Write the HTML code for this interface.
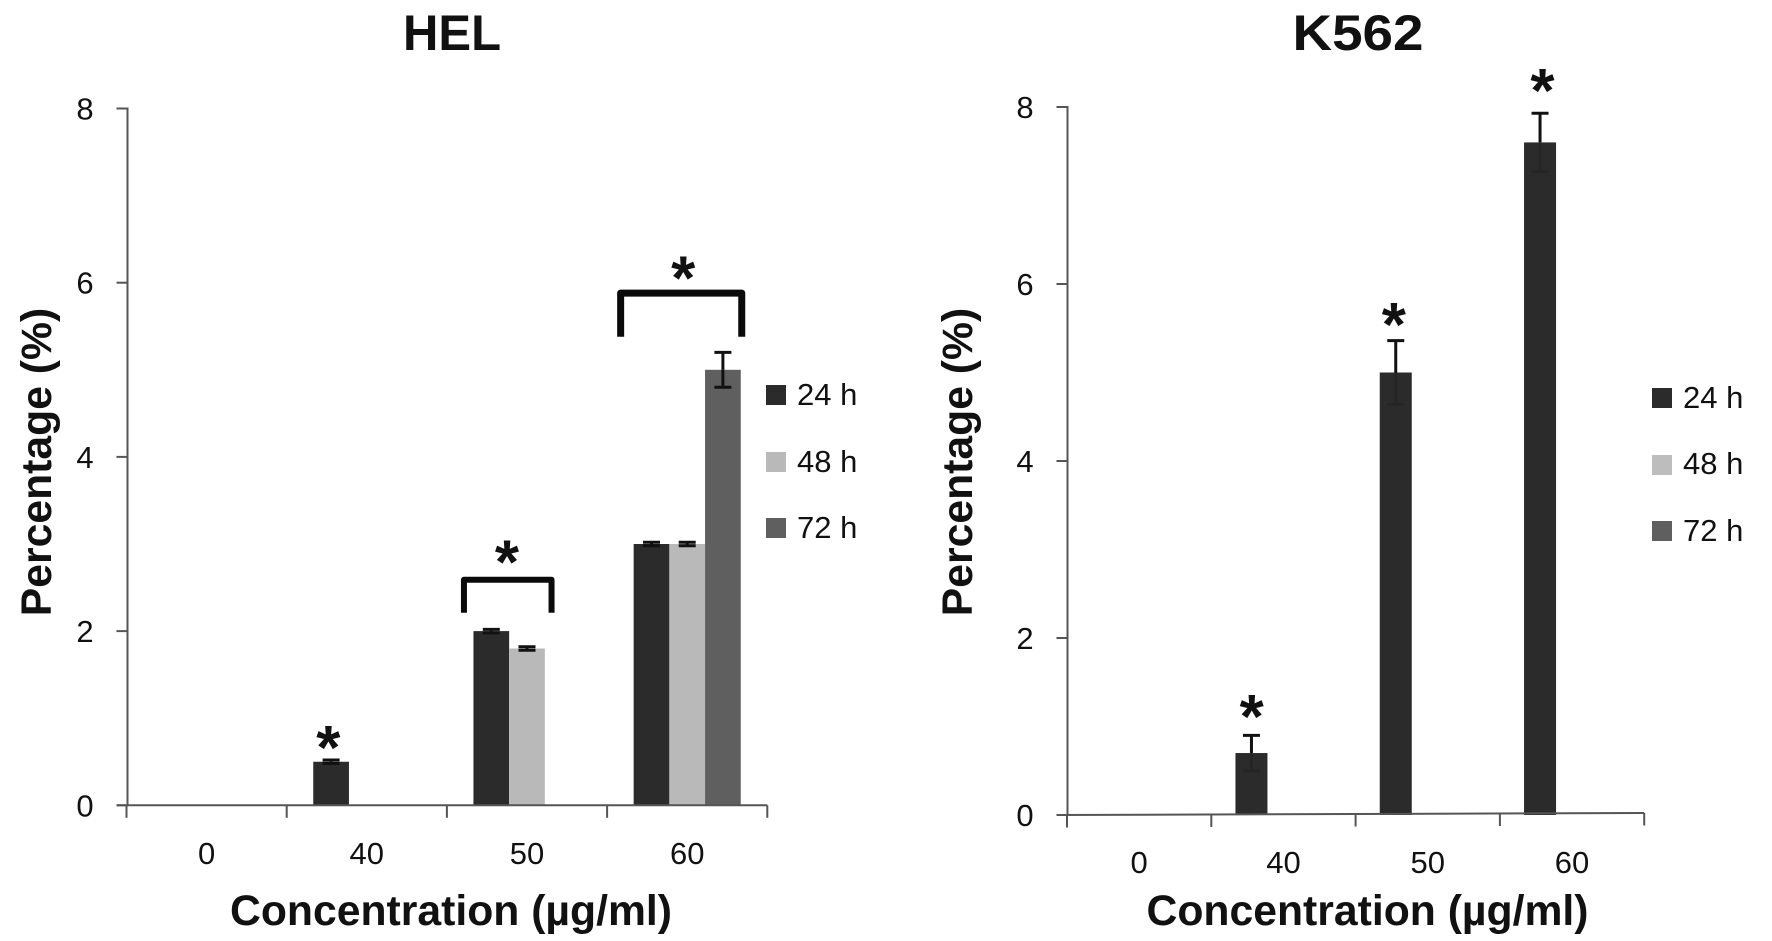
<!DOCTYPE html>
<html lang="en">
<head>
<meta charset="utf-8">
<title>HEL and K562 percentage by concentration</title>
<style>
  html, body { margin: 0; padding: 0; background: #fff; }
  svg { display: block; }
  text { font-family: "Liberation Sans", sans-serif; fill: #111; }
  .t { font-weight: bold; font-size: 50px; text-anchor: middle; }
  .a { font-weight: bold; font-size: 42.7px; text-anchor: middle; }
  .l { font-size: 31px; }
</style>
</head>
<body>
<svg id="fig" width="1772" height="941" viewBox="0 0 1772 941" xmlns="http://www.w3.org/2000/svg">
  <rect width="1772" height="941" fill="#fff"/>

  <g id="hel">
    <text class="t" x="452" y="50" textLength="98" lengthAdjust="spacingAndGlyphs">HEL</text>
    <text class="a" transform="translate(51 462) rotate(-90)">Percentage (%)</text>
    <text class="a" x="451" y="925">Concentration (µg/ml)</text>
    <g>
      <rect x="766" y="385" width="20" height="20" fill="#2b2b2b"/>
      <text class="l" x="797" y="405">24 h</text>
      <rect x="766" y="452" width="20" height="20" fill="#b9b9b9"/>
      <text class="l" x="797" y="472">48 h</text>
      <rect x="766" y="518" width="20" height="20" fill="#5f5f5f"/>
      <text class="l" x="797" y="538">72 h</text>
    </g>
  </g>

  <g id="k562">
    <text class="t" x="1358" y="50" textLength="131" lengthAdjust="spacingAndGlyphs">K562</text>
    <text class="a" transform="translate(972 462) rotate(-90)">Percentage (%)</text>
    <text class="a" x="1367.5" y="925">Concentration (µg/ml)</text>
    <g>
      <rect x="1652" y="388" width="20" height="20" fill="#2b2b2b"/>
      <text class="l" x="1683" y="408">24 h</text>
      <rect x="1652" y="455" width="20" height="20" fill="#bdbdbd"/>
      <text class="l" x="1683" y="474">48 h</text>
      <rect x="1652" y="521" width="20" height="20" fill="#5f5f5f"/>
      <text class="l" x="1683" y="541">72 h</text>
    </g>
  </g>
</svg>

<script>
// Shared axis data
const categories = ['0', '40', '50', '60'];
const yTickLabels = [0, 2, 4, 6, 8];
const seriesNames = ['24h', '48h', '72h'];

// HEL values per series (one entry per category)
const hel24 = [0, 0.5, 2, 3];
const hel48 = [0, 0, 1.8, 3];
const hel72 = [0, 0, 0, 5];
const hel24Err = [0, 0.02, 0.02, 0.02];
const hel48Err = [0, 0, 0.02, 0.02];
const hel72Err = [0, 0, 0, 0.2];

// HEL significance annotations (category coordinate, value coordinate)
const helStarCat = [0.76, 1.875, 2.975];
const helStarVal = [0.76, 2.89, 6.15];
const helBracketCat = [2, 3];
const helBracketTop = [2.59, 5.88];
const helBracketBottom = [2.21, 5.38];

// K562 values per series
const k24 = [0, 0.7, 5, 7.6];
const k48 = [0, 0, 0, 0];
const k72 = [0, 0, 0, 0];
const k24Err = [0, 0.2, 0.36, 0.33];
const k48Err = [0, 0, 0, 0];
const k72Err = [0, 0, 0, 0];

// K562 significance annotations
const kStarCat = [0.78, 1.765, 2.795];
const kStarVal = [1.21, 5.64, 8.28];

const NS = 'http://www.w3.org/2000/svg';
const colors = ['#2b2b2b', '#b9b9b9', '#5f5f5f'];
const AXIS = '#555';

function mk(parent, tag, attrs) {
  const el = document.createElementNS(NS, tag);
  for (const key in attrs) el.setAttribute(key, attrs[key]);
  parent.appendChild(el);
  return el;
}

function drawChart(rootId, prefix, g, series, errors, stars, brackets) {
  const root = document.getElementById(rootId);
  const xAt = c => g.left + (c + 0.5) * g.band;
  const yAt = v => g.zero - v * g.unit;
  const barLeft = (c, s) => xAt(c) - 1.5 * g.barW + s * g.barW;

  // bars
  series.forEach((vals, s) => {
    vals.forEach((v, c) => {
      const bar = mk(root, 'rect', { x: barLeft(c, s), y: yAt(v), width: g.barW, height: Math.max(0, g.zero - yAt(v)), fill: colors[s] });
      
      
    });
  });

  // axes
  const xAxis = mk(root, 'line', { x1: g.axisX - 11, y1: g.zero, x2: g.left + 4 * g.band, y2: g.zero - g.slope, stroke: AXIS, 'stroke-width': 2 });
  
  
  const yAxis = mk(root, 'line', { x1: g.axisX, y1: yAt(8) - 1, x2: g.axisX, y2: g.zero, stroke: AXIS, 'stroke-width': 2 });
  
  

  // y ticks and labels
  yTickLabels.forEach(v => {
    const tick = mk(root, 'line', { x1: g.axisX - 11, y1: yAt(v), x2: g.axisX, y2: yAt(v), stroke: AXIS, 'stroke-width': 2 });
    
    
    const label = mk(root, 'text', { x: g.yLabelX, y: yAt(v) + 11, 'text-anchor': 'middle', 'font-size': 31 });
    label.textContent = v;
    
    
  });

  // x ticks
  for (let i = 0; i <= categories.length; i++) {
    const x = g.left + i * g.band;
    const y = g.zero - g.slope * i / categories.length;
    const tick = mk(root, 'line', { x1: x, y1: y, x2: x, y2: y + 12.5, stroke: AXIS, 'stroke-width': 2 });
    
    
  }

  // x labels
  categories.forEach((name, c) => {
    const label = mk(root, 'text', { x: xAt(c), y: g.xLabelY, 'text-anchor': 'middle', 'font-size': 31 });
    label.textContent = name;
    
    
  });

  // error bars: upper whisker opaque, lower whisker at the chart's own opacity
  errors.forEach((vals, s) => {
    vals.forEach((e, c) => {
      if (!(e > 0)) return;
      const v = series[s][c];
      const cx = barLeft(c, s) + g.barW / 2;
      const up = mk(root, 'path', {
        d: 'M' + (cx - 8.5) + ' ' + yAt(v + e) + 'H' + (cx + 8.5) +
           'M' + cx + ' ' + yAt(v + e) + 'V' + yAt(v),
        stroke: '#111', 'stroke-width': 3, fill: 'none'
      });
      
      
      const low = mk(root, 'path', {
        d: 'M' + cx + ' ' + yAt(v) + 'V' + yAt(v - e) +
           'M' + (cx - 8.5) + ' ' + yAt(v - e) + 'H' + (cx + 8.5),
        stroke: '#111', 'stroke-width': 3, fill: 'none', 'stroke-opacity': g.lowerOpacity
      });
      
      
    });
  });

  // significance brackets
  brackets.cat.forEach((c, i) => {
    const thick = brackets.thick[i];
    const xa = barLeft(c, 0) - brackets.padL[i];
    const xb = barLeft(c, 3) + brackets.padR[i];
    const br = mk(root, 'path', {
      d: 'M' + xa + ' ' + yAt(brackets.bottom[i]) + 'V' + yAt(brackets.top[i]) + 'H' + xb + 'V' + yAt(brackets.bottom[i]),
      stroke: '#0a0a0a', 'stroke-width': thick, fill: 'none', 'stroke-linejoin': 'round'
    });
    
    
  });

  // significance stars
  stars.cat.forEach((c, i) => {
    const star = mk(root, 'text', { x: xAt(c), y: yAt(stars.val[i]) + 30, 'text-anchor': 'middle', 'font-size': 62, 'font-weight': 'bold' });
    star.textContent = '*';
    
    
  });
}

drawChart('hel', 'hel',
  { left: 126.5, band: 160.2, zero: 805.3, unit: 87.1, barW: 35.7, axisX: 127.5, yLabelX: 85, xLabelY: 864, slope: 0, lowerOpacity: 1 },
  [hel24, hel48, hel72],
  [hel24Err, hel48Err, hel72Err],
  { cat: helStarCat, val: helStarVal },
  { cat: helBracketCat, top: helBracketTop, bottom: helBracketBottom, padL: [9.5, 13], padR: [-29, 1], thick: [6, 7] }
);

drawChart('k562', 'k562',
  { left: 1067, band: 144.3, zero: 815, unit: 88.5, barW: 32, axisX: 1067.5, yLabelX: 1025, xLabelY: 873, slope: 2, lowerOpacity: 0.2 },
  [k24, k48, k72],
  [k24Err, k48Err, k72Err],
  { cat: kStarCat, val: kStarVal },
  { cat: [], top: [], bottom: [], padL: [], padR: [], thick: [] }
);
</script>
</body>
</html>
